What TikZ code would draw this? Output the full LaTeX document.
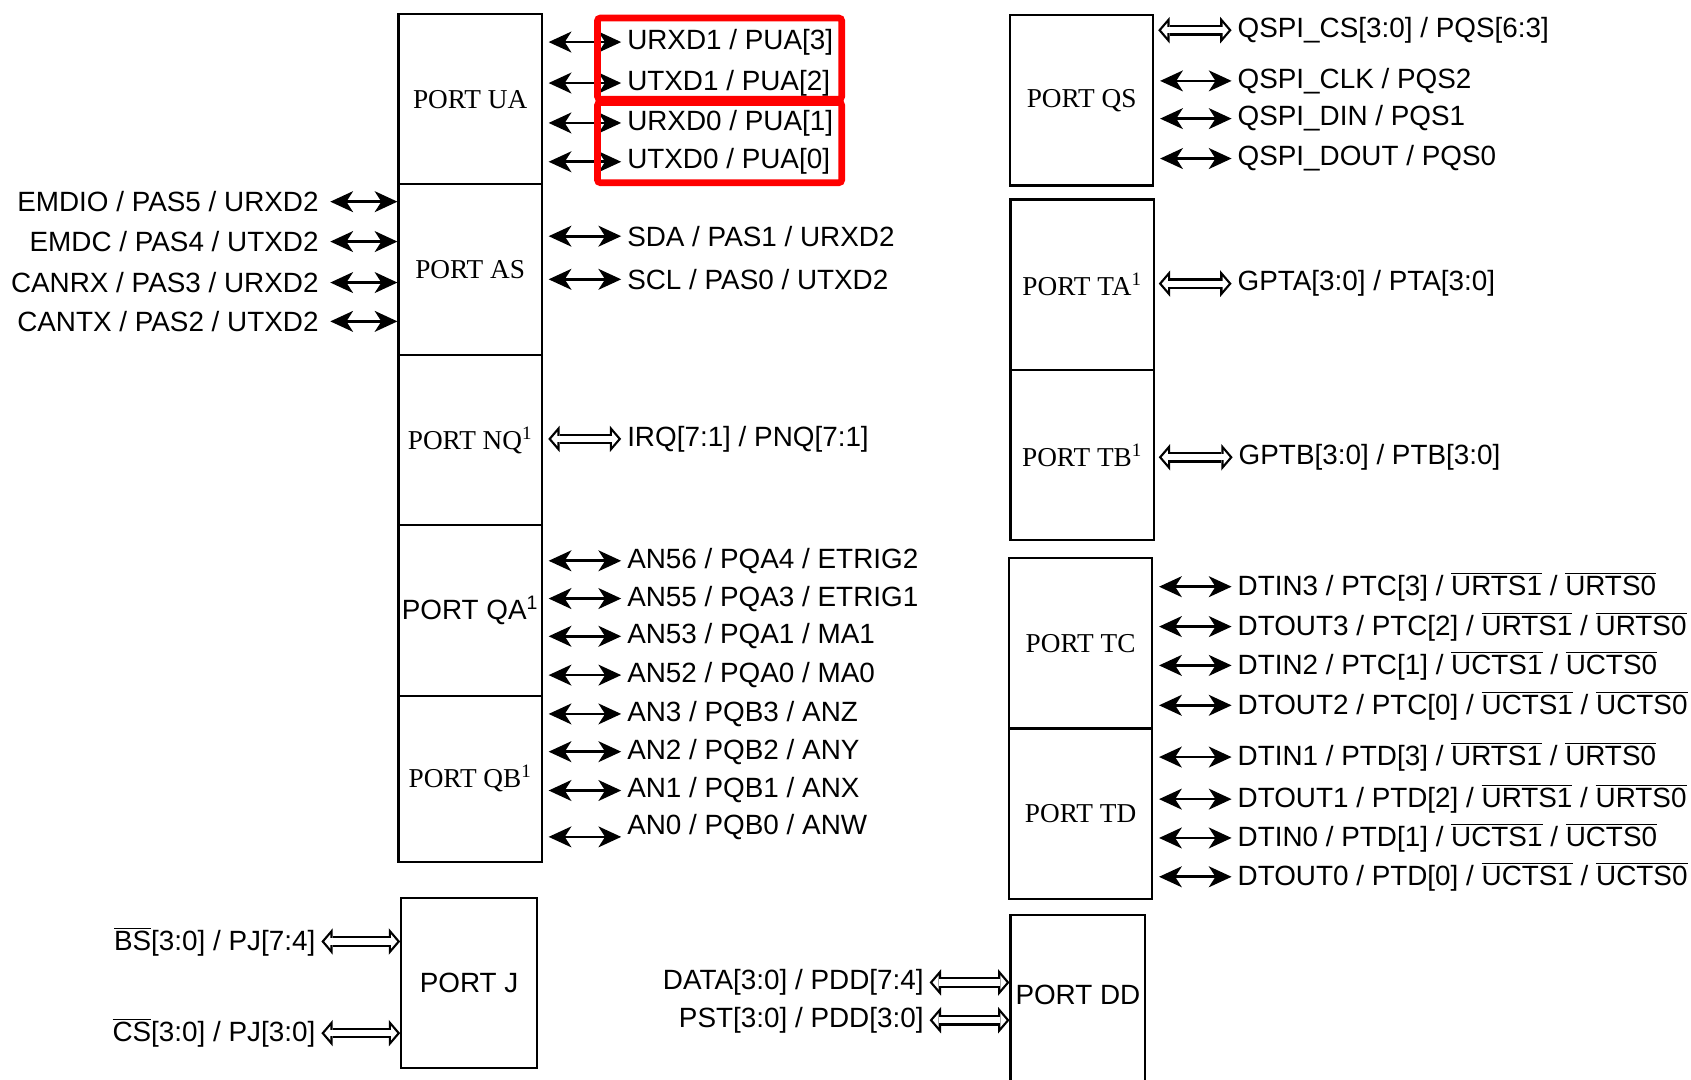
\documentclass[tikz,border=0pt]{standalone}
\usepackage{fontspec}
\setmainfont{Liberation Sans}
\newfontfamily\portserif{Liberation Serif}
\usetikzlibrary{arrows.meta,positioning,calc}
\definecolor{Ink}{HTML}{000000}
\definecolor{Mark}{HTML}{FF0000}
\newcommand{\ovl}[1]{\ensuremath{\overline{\mbox{#1}}}}
\newcommand{\busline}[2]{\draw[busout] #1 -- #2; \draw[busin] #1 -- #2;}
\tikzset{port/.style={draw=Ink,line width=1.1pt,minimum width=2.66cm,minimum height=3.16cm,inner sep=0pt,font=\portserif\fontsize{14.4}{16}\selectfont},portsf/.style={port,font=\fontsize{14.7}{17}\selectfont},sig/.style={{Stealth[length=12pt,width=11pt,inset=3.5pt]}-{Stealth[length=12pt,width=11pt,inset=3.5pt]},line width=1.4pt,draw=Ink,shorten <=3pt},busout/.style={{Triangle[length=6pt,width=14pt,line width=0pt]}-{Triangle[length=6pt,width=14pt,line width=0pt]},draw=Ink,line width=5.6pt},busin/.style={{Triangle[length=3.2pt,width=7.5pt,line width=0pt]}-{Triangle[length=3.2pt,width=7.5pt,line width=0pt]},draw=white,line width=3.2pt,shorten <=1.58pt,shorten >=1.58pt},labr/.style={anchor=west,inner sep=3pt,font=\fontsize{14.7}{17}\selectfont,text=Ink},labl/.style={labr,anchor=east},hl/.style={draw=Mark,line width=3.5pt,rounded corners=1.5pt}}

\begin{document}
\begin{tikzpicture}[x=0.02cm,y=-0.02cm]
\useasboundingbox (0,0) rectangle (1568,1001);
% left column of ports
\node[port] (ua) at (436,92) {PORT UA};
\node[port] (as) at (436,250) {PORT AS};
\node[port] (nq) at (436,408) {PORT NQ\textsuperscript{1}};
\node[portsf] (qa) at (436,566) {PORT QA\textsuperscript{1}};
\node[port,minimum height=3.08cm] (qb) at (436,722) {PORT QB\textsuperscript{1}};
\node[portsf,minimum width=2.52cm] (pj) at (435,911.5) {PORT J};
% right column of ports
\node[port] (qs) at (1003,93) {PORT QS};
\node[port] (ta) at (1003.5,264) {PORT TA\textsuperscript{1}};
\node[port] (tb) at (1003.5,422) {PORT TB\textsuperscript{1}};
\node[port] (tc) at (1002,596.5) {PORT TC};
\node[port] (td) at (1002,754.5) {PORT TD};
\node[portsf,minimum width=2.5cm,minimum height=3.28cm,text depth=0.3cm] (dd) at (999.5,930) {PORT DD};
% port UA
\node[labr] (u1) at (576,39) {URXD1 / PUA[3]};
\node[labr] (u2) at (576,77) {UTXD1 / PUA[2]};
\node[labr] (u3) at (576,114) {URXD0 / PUA[1]};
\node[labr] (u4) at (576,150) {UTXD0 / PUA[0]};
\draw[sig] (u1.west -| ua.east) -- (u1.west);\draw[sig] (u2.west -| ua.east) -- (u2.west);
\draw[sig] (u3.west -| ua.east) -- (u3.west);\draw[sig] (u4.west -| ua.east) -- (u4.west);
\draw[hl] (554,16.7) rectangle (780.5,92);
\draw[hl] (554,95) rectangle (780.5,169.4);
% port AS
\node[labl] (e1) at (301,187) {EMDIO / PAS5 / URXD2};
\node[labl] (e2) at (301,224) {EMDC / PAS4 / UTXD2};
\node[labl] (e3) at (301,262) {CANRX / PAS3 / URXD2};
\node[labl] (e4) at (301,298) {CANTX / PAS2 / UTXD2};
\draw[sig] (e1.east) -- (e1.east -| as.west);\draw[sig] (e2.east) -- (e2.east -| as.west);
\draw[sig] (e3.east) -- (e3.east -| as.west);\draw[sig] (e4.east) -- (e4.east -| as.west);
\node[labr] (s1) at (576,219) {SDA / PAS1 / URXD2};
\node[labr] (s2) at (576,259) {SCL / PAS0 / UTXD2};
\draw[sig] (s1.west -| as.east) -- (s1.west);\draw[sig] (s2.west -| as.east) -- (s2.west);
% port NQ
\node[labr] (n1) at (576,407) {IRQ[7:1] / PNQ[7:1]};
\busline{([xshift=2.8pt]n1.west -| nq.east)}{(n1.west)}
% ports QA and QB
\node[labr] (q1) at (576,520) {AN56 / PQA4 / ETRIG2};
\node[labr] (q2) at (576,555) {AN55 / PQA3 / ETRIG1};
\node[labr] (q3) at (576,590) {AN53 / PQA1 / MA1};
\node[labr] (q4) at (576,626) {AN52 / PQA0 / MA0};
\draw[sig] (q1.west -| qa.east) -- (q1.west);\draw[sig] (q2.west -| qa.east) -- (q2.west);
\draw[sig] (q3.west -| qa.east) -- (q3.west);\draw[sig] (q4.west -| qa.east) -- (q4.west);
\node[labr] (q5) at (576,662) {AN3 / PQB3 / ANZ};
\node[labr] (q6) at (576,697) {AN2 / PQB2 / ANY};
\node[labr] (q7) at (576,733) {AN1 / PQB1 / ANX};
\node[labr] (q8) at (576,767) {AN0 / PQB0 / ANW};
\draw[sig] (q5.west -| qb.east) -- (q5.west);\draw[sig] (q6.west -| qb.east) -- (q6.west);
\draw[sig] (q7.west -| qb.east) -- (q7.west);
\draw[sig] ([yshift=-0.18cm]q8.west -| qb.east) -- ([yshift=-0.18cm]q8.west);
% port J
\node[labl] (j1) at (298,873) {\ovl{BS}[3:0] / PJ[7:4]};
\node[labl] (j2) at (298,958) {\ovl{CS}[3:0] / PJ[3:0]};
\busline{(j1.east)}{(j1.east -| pj.west)}
\busline{(j2.east)}{(j2.east -| pj.west)}
% port QS
\node[labr] (p1) at (1142,28) {QSPI\_CS[3:0] / PQS[6:3]};
\node[labr] (p2) at (1142,75) {QSPI\_CLK / PQS2};
\node[labr] (p3) at (1142,110) {QSPI\_DIN / PQS1};
\node[labr] (p4) at (1142,147) {QSPI\_DOUT / PQS0};
\busline{([xshift=2pt]p1.west -| qs.east)}{(p1.west)}
\draw[sig] (p2.west -| qs.east) -- (p2.west);\draw[sig] (p3.west -| qs.east) -- (p3.west);\draw[sig] (p4.west -| qs.east) -- (p4.west);
% ports TA and TB
\node[labr] (g1) at (1142,263) {GPTA[3:0] / PTA[3:0]};
\node[labr] (g2) at (1143,424) {GPTB[3:0] / PTB[3:0]};
\busline{([xshift=2pt]g1.west -| ta.east)}{(g1.west)}
\busline{([xshift=2pt]g2.west -| tb.east)}{(g2.west)}
% port TC
\node[labr] (c1) at (1142,544) {DTIN3 / PTC[3] / \ovl{URTS1} / \ovl{URTS0}};
\node[labr] (c2) at (1142,581) {DTOUT3 / PTC[2] / \ovl{URTS1} / \ovl{URTS0}};
\node[labr] (c3) at (1142,617) {DTIN2 / PTC[1] / \ovl{UCTS1} / \ovl{UCTS0}};
\node[labr] (c4) at (1142,654) {DTOUT2 / PTC[0] / \ovl{UCTS1} / \ovl{UCTS0}};
\draw[sig] (c1.west -| tc.east) -- (c1.west);\draw[sig] (c2.west -| tc.east) -- (c2.west);
\draw[sig] (c3.west -| tc.east) -- (c3.west);\draw[sig] (c4.west -| tc.east) -- (c4.west);
% port TD
\node[labr] (d1) at (1142,702) {DTIN1 / PTD[3] / \ovl{URTS1} / \ovl{URTS0}};
\node[labr] (d2) at (1142,741) {DTOUT1 / PTD[2] / \ovl{URTS1} / \ovl{URTS0}};
\node[labr] (d3) at (1142,777) {DTIN0 / PTD[1] / \ovl{UCTS1} / \ovl{UCTS0}};
\node[labr] (d4) at (1142,813) {DTOUT0 / PTD[0] / \ovl{UCTS1} / \ovl{UCTS0}};
\draw[sig] (d1.west -| td.east) -- (d1.west);\draw[sig] (d2.west -| td.east) -- (d2.west);
\draw[sig] (d3.west -| td.east) -- (d3.west);\draw[sig] (d4.west -| td.east) -- (d4.west);
% port DD
\node[labl] (b1) at (862,911) {DATA[3:0] / PDD[7:4]};
\node[labl] (b2) at (862,946) {PST[3:0] / PDD[3:0]};
\busline{(b1.east)}{(b1.east -| dd.west)}
\busline{(b2.east)}{(b2.east -| dd.west)}
\end{tikzpicture}
\end{document}
